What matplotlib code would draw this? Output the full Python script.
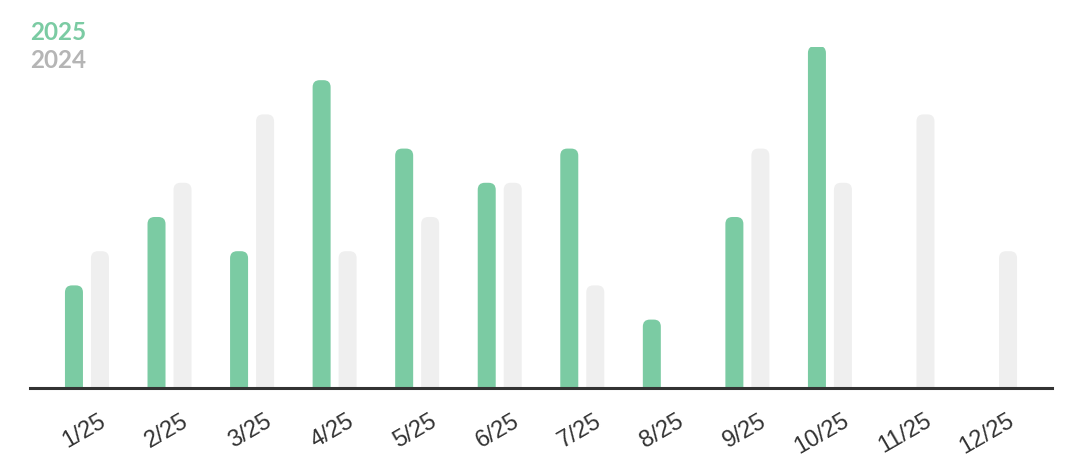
import matplotlib
matplotlib.use("Agg")
import matplotlib.pyplot as plt
from matplotlib.patches import FancyBboxPatch
import matplotlib.transforms as mtransforms

labels = ["1/25", "2/25", "3/25", "4/25", "5/25", "6/25", "7/25", "8/25", "9/25", "10/25", "11/25", "12/25"]
values_2025 = [3, 5, 4, 9, 7, 6, 7, 2, 5, 10, 0, 0]
values_2024 = [4, 6, 8, 4, 5, 6, 3, 0, 7, 6, 8, 4]

green = "#7bcba3"
grey = "#efefef"

W, H = 1074, 472
fig = plt.figure(figsize=(W / 100, H / 100), dpi=100)
ax_left, ax_right, ax_top, ax_bot = 30, 1052, 47, 388
ax = fig.add_axes([ax_left / W, 1 - ax_bot / H, (ax_right - ax_left) / W, (ax_bot - ax_top) / H])

n = len(labels)
ymax = 9.97
ax.set_xlim(-0.69, n - 1 + 0.69)
ax.set_ylim(0, ymax)

px_x = (ax_right - ax_left) / (n - 1 + 1.38)
px_y = (ax_bot - ax_top) / ymax
bw = 18 / px_x
off = 13 / px_x
r = 7 / px_x
aspect = px_x / px_y

def bar(x, h, color):
    if h <= 0:
        return
    p = FancyBboxPatch((x - bw / 2, -1), bw, h + 1,
                       boxstyle=f"round,pad=0,rounding_size={r}",
                       mutation_aspect=aspect, facecolor=color, edgecolor="none",
                       clip_on=True, zorder=2)
    ax.add_patch(p)

for i in range(n):
    bar(i - off, values_2025[i], green)
    bar(i + off, values_2024[i], grey)

for s in ["top", "left", "right"]:
    ax.spines[s].set_visible(False)
ax.spines["bottom"].set_color("#333333")
ax.spines["bottom"].set_linewidth(2.2)
ax.spines["bottom"].set_zorder(3)
ax.set_xticks([])
ax.set_yticks([])

offset = mtransforms.ScaledTranslation(12 / 100, -22 / 100, fig.dpi_scale_trans)
for i, lab in enumerate(labels):
    ax.text(i, 0, lab, rotation=30, ha="right", va="top", rotation_mode="anchor",
            transform=ax.transData + offset, fontsize=17, color="#333333",
            family=["Liberation Sans", "DejaVu Sans"])

fig.text(30 / W, 1 - 40 / H, "2025", color=green, fontsize=17.5, fontweight="bold",
         family=["Lato", "DejaVu Sans"], ha="left", va="baseline")
fig.text(30 / W, 1 - 68 / H, "2024", color="#b5b5b5", fontsize=17.5, fontweight="bold",
         family=["Lato", "DejaVu Sans"], ha="left", va="baseline")

fig.savefig("out.png", dpi=100)
